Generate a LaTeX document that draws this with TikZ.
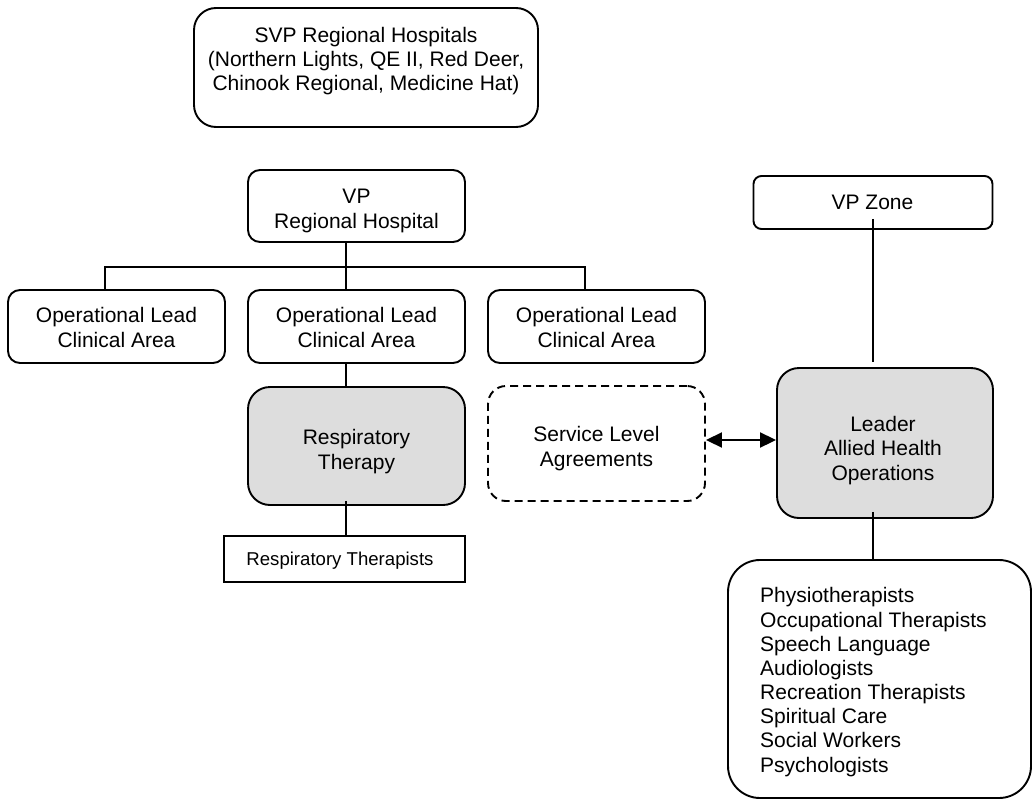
\documentclass[tikz,border=0pt]{standalone}
\usepackage{fontspec}
\setmainfont{Liberation Sans}
\usetikzlibrary{calc,arrows.meta}
\definecolor{boxgray}{RGB}{221,221,221}
\begin{document}
\begin{tikzpicture}[x=1pt,y=-1pt,
  box/.style={draw=black, line width=1.9pt, rounded corners=#1, inner sep=0pt, fill=white},
  box/.default=12pt,
  graybox/.style={box=#1, fill=boxgray},
  graybox/.default=22pt,
  dashbox/.style={draw=black, line width=1.9pt, rounded corners=18pt, dash pattern=on 8pt off 5pt, inner sep=0pt},
  txt/.style={inner sep=0pt, align=center, font=\fontsize{21}{24.15}\selectfont, anchor=base},
  smalltxt/.style={inner sep=0pt, font=\fontsize{18.6}{21.4}\selectfont, anchor=base},
  conn/.style={draw=black, line width=1.9pt},
  dbl/.style={conn, {Triangle[length=16pt,width=15pt]}-{Triangle[length=16pt,width=15pt]}}
]
\useasboundingbox (0,0) rectangle (1032,800);

% boxes
\node[box=22pt, minimum width=344pt, minimum height=119pt] (svp) at (366,67.5) {};
\node[box, minimum width=217pt, minimum height=72pt] (vprh) at (356.5,206) {};
\node[box, minimum width=217pt, minimum height=73pt] (op1) at (116.5,326.5) {};
\node[box, minimum width=217pt, minimum height=73pt] (op2) at (356.5,326.5) {};
\node[box, minimum width=217pt, minimum height=73pt] (op3) at (596.5,326.5) {};
\node[graybox, minimum width=217pt, minimum height=118pt] (rt) at (356.5,446) {};
\node[box=0pt, minimum width=241pt, minimum height=46pt] (rts) at (344.5,559) {};
\node[dashbox, minimum width=217pt, minimum height=115pt] (sla) at (596.5,443.5) {};
\node[box=8pt, minimum width=239pt, minimum height=53pt] (zone) at (873,202.5) {};
\node[graybox, minimum width=216pt, minimum height=150pt] (leader) at (885,443) {};
\node[box=32pt, minimum width=303pt, minimum height=238pt] (list) at (879.5,679) {};

% texts (anchor=base is the last line's baseline)
\node[txt] (svp-t) at (366,90.3) {SVP Regional Hospitals\\(Northern Lights, QE II, Red Deer,\\Chinook Regional, Medicine Hat)};
\node[txt] (vprh-t) at (356.5,228) {VP\\Regional Hospital};
\node[txt] (op1-t) at (116.5,347) {Operational Lead\\Clinical Area};
\node[txt] (op2-t) at (356.5,347) {Operational Lead\\Clinical Area};
\node[txt] (op3-t) at (596.5,347) {Operational Lead\\Clinical Area};
\node[txt] (rt-t) at (356.5,469) {Respiratory\\Therapy};
\node[smalltxt] (rts-t) at (340,565) {Respiratory Therapists};
\node[txt] (sla-t) at (596.5,466) {Service Level\\Agreements};
\node[txt] (zone-t) at (872.5,209) {VP Zone};
\node[txt] (leader-t) at (883,480) {Leader\\Allied Health\\Operations};
\node[txt, align=left, anchor=base west] (list-t) at (760,772) {Physiotherapists\\Occupational Therapists\\Speech Language\\Audiologists\\Recreation Therapists\\Spiritual Care\\Social Workers\\Psychologists};

% connectors
\coordinate (bar) at (346,267);
\coordinate (arrowy) at (0,440);
\draw[conn] (vprh.south -| bar) -- (bar);
\draw[conn] ($(op1.north)+(-11.5,0)$) |- (bar) -| ($(op3.north)+(-11.5,0)$);
\draw[conn] (bar) -- (op2.north -| bar);
\draw[conn] (op2.south -| bar) -- (rt.north -| bar);
\draw[conn] ($(rt.south -| bar)+(0,-5)$) -- (rts.north -| bar);
\draw[conn] ($(zone.south)+(0,-11)$) -- ($(leader.north -| zone.south)+(0,-5)$);
\draw[conn] ($(leader.south -| zone.south)+(0,-7)$) -- (list.north -| zone.south);
\draw[dbl] (sla.east |- arrowy) -- (leader.west |- arrowy);
\end{tikzpicture}
\end{document}
